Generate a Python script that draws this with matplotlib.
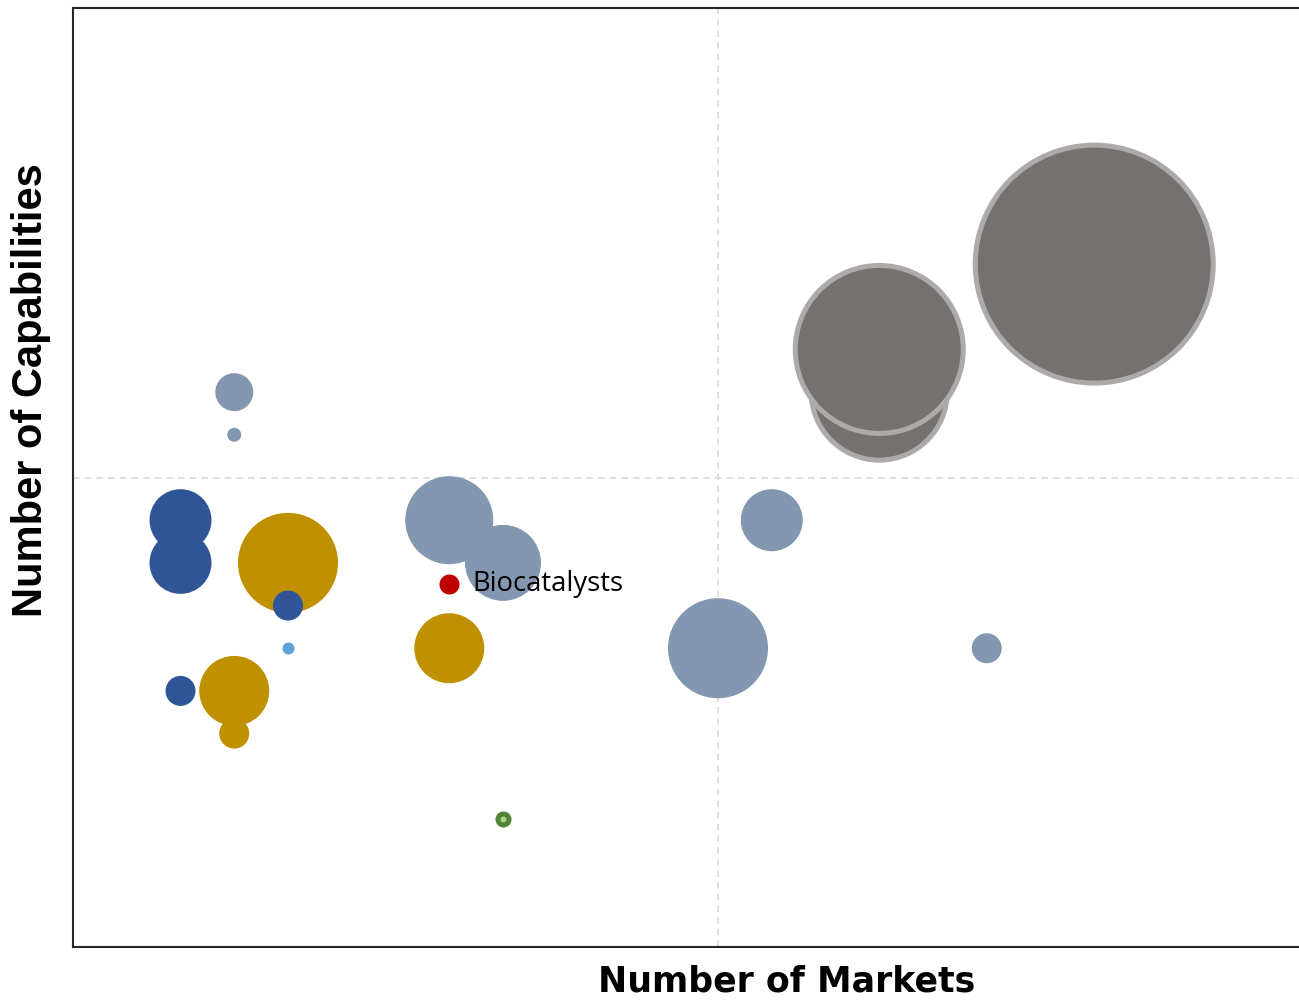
import matplotlib.pyplot as plt

# bubble data: markets (x), capabilities (y), bubble size (radius-like units)
markets_grayblue = [3, 3, 7, 8, 12, 13, 17]
caps_grayblue = [13, 12, 10, 9, 7, 10, 7]
size_grayblue = [19, 7, 44, 38, 50, 31, 15]

markets_blue = [2, 2, 2, 4]
caps_blue = [10, 9, 6, 8]
size_blue = [31, 31, 15, 15]

markets_gold = [4, 3, 3, 7]
caps_gold = [9, 6, 5, 7]
size_gold = [50, 35, 15, 35]

markets_light = [4]
caps_light = [7]
size_light = [6]

markets_green = [8]
caps_green = [3]
size_green = [8]

markets_dark = [15, 15, 19]
caps_dark = [13, 14, 16]
size_dark = [68, 84, 119]

label_x = [7]
label_y = [8.5]
label_size = [10]
label_text = ["Biocatalysts"]


def area(r):
    # radius in px -> marker area in pt^2 (dpi 100)
    return [(2 * v * 0.72) ** 2 for v in r]


fig = plt.figure(figsize=(12.99, 10), dpi=100)
ax = fig.add_axes([73 / 1299, 53 / 1000, 1290 / 1299, 939 / 1000])
ax.set_xlim(0, 24)
ax.set_ylim(0, 22)

ax.axvline(12, color='#D9D9D9', ls=(0, (4, 3)), lw=1.2, zorder=0)
ax.axhline(11, color='#D9D9D9', ls=(0, (4, 3)), lw=1.2, zorder=0)

ax.scatter(markets_dark, caps_dark, s=area(size_dark), color='#757171',
           edgecolors='#AEAAAA', linewidths=3.6, zorder=2)
ax.scatter(markets_gold, caps_gold, s=area(size_gold), color='#BF9000',
           linewidths=0, zorder=2)
ax.scatter(markets_grayblue, caps_grayblue, s=area(size_grayblue), color='#8497B0',
           linewidths=0, zorder=3)
ax.scatter(markets_blue, caps_blue, s=area(size_blue), color='#2F5597',
           linewidths=0, zorder=3)
ax.scatter(markets_light, caps_light, s=area(size_light), color='#5BA3D9',
           linewidths=0, zorder=3)
ax.scatter(markets_green, caps_green, s=area(size_green), color='#548235',
           linewidths=0, zorder=3)
ax.scatter(markets_green, caps_green, s=area([3]), color='#A9D18E',
           linewidths=0, zorder=4)
ax.scatter(label_x, label_y, s=area(label_size), color='#C00000',
           linewidths=0, zorder=4)
for x, y, t in zip(label_x, label_y, label_text):
    ax.text(x + 0.43, y, t, fontsize=19.8, family='Open Sans', va='center',
            ha='left', zorder=5)

ax.set_xticks([])
ax.set_yticks([])
for sp in ax.spines.values():
    sp.set_color('#262626')
    sp.set_linewidth(1.5)

fig.text(787 / 1299, 1 - 982 / 1000, 'Number of Markets', fontsize=25,
         fontweight='bold', family='DejaVu Sans', ha='center', va='center')
fig.text(31 / 1299, 1 - 390 / 1000, 'Number of Capabilities', fontsize=30,
         fontweight='heavy', family='Liberation Sans', rotation=90,
         ha='center', va='center')

fig.savefig('out.png', dpi=100)
